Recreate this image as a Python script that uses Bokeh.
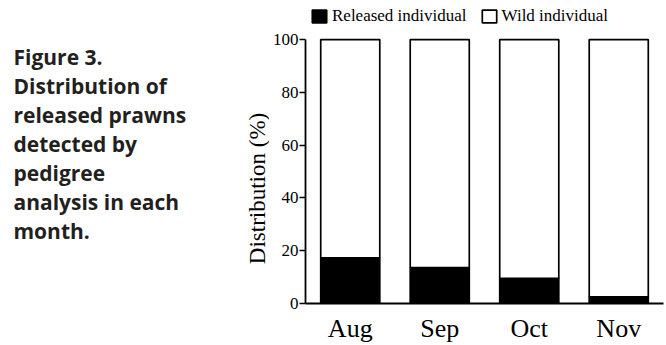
import math
from bokeh.plotting import figure
from bokeh.layouts import row
from bokeh.models import Range1d, FactorRange, Label, Legend, LegendItem
from bokeh.embed import file_html
from bokeh.resources import INLINE

# Monthly share of released vs wild prawns (%)
months = ["Aug", "Sep", "Oct", "Nov"]
released = [17.3, 13.6, 9.5, 2.5]
wild = [100 - r for r in released]
y_ticks = [0, 20, 40, 60, 80, 100]
y_title = "Distribution (%)"

caption_lines = [
    "Figure 3.",
    "Distribution of",
    "released prawns",
    "detected by",
    "pedigree",
    "analysis in each",
    "month.",
]

SERIF = "Liberation Serif"
INK = "#000000"
W, H = 666, 345
CAP_W = 269               # caption panel (also carries the y title)
FRAME_LEFT = 305
PLOT_BOTTOM = 35          # space below the zero line for month labels
PX_PER_PCT = 2.7          # vertical scale of the bars
FRAME_H = H - PLOT_BOTTOM
Y_TOP = FRAME_H / PX_PER_PCT   # headroom above 100 % holds the legend

# ---- caption panel on the left (frame is aligned with the chart's frame) ----
cap = figure(
    width=CAP_W, height=H, x_range=Range1d(0, 1), y_range=Range1d(0, 1),
    output_backend="svg", toolbar_location=None,
    min_border=0, min_border_bottom=PLOT_BOTTOM,
    x_axis_type=None, y_axis_type=None,
)
cap.outline_line_color = None
cap.grid.grid_line_color = None
for i, line in enumerate(caption_lines):
    cap.add_layout(Label(
        x=13, y=FRAME_H - 63 - 29 * i, x_units="screen", y_units="screen",
        text=line, text_font="Open Sans", text_font_style="bold",
        text_font_size="21px", text_color="#231f20",
        text_baseline="alphabetic",
    ))

# y title, centred a little below the middle of the 0-100 scale
cap.add_layout(Label(
    x=257, y=FRAME_H - 195, x_units="screen", y_units="screen",
    text=y_title, angle=math.pi / 2, text_align="center",
    text_baseline="middle", text_font=SERIF, text_font_size="23px",
    text_color=INK,
))

# ---- stacked bar chart ----
p = figure(
    width=W - CAP_W, height=H,
    x_range=FactorRange(*months, range_padding=0),
    y_range=Range1d(0, Y_TOP),
    output_backend="svg", toolbar_location=None,
    min_border_left=FRAME_LEFT - CAP_W, min_border_right=3,
    min_border_top=0, min_border_bottom=PLOT_BOTTOM,
)
p.outline_line_color = None
p.grid.grid_line_color = None

data = dict(month=months, released=released, wild=wild)
renderers = p.vbar_stack(
    ["released", "wild"], x="month", width=0.66, source=data,
    fill_color=[INK, "white"], line_color=INK, line_width=1.7,
)

# y axis, limited to 0-100 %
p.yaxis.ticker = y_ticks
p.yaxis.bounds = (0, 100)
p.yaxis.major_label_text_font = SERIF
p.yaxis.major_label_text_font_size = "17px"
p.yaxis.major_label_text_color = INK
p.yaxis.major_label_standoff = 1
p.yaxis.major_tick_out = 6
p.yaxis.major_tick_in = 0
p.yaxis.minor_tick_line_color = None
p.yaxis.axis_line_width = 1.8
p.yaxis.major_tick_line_width = 1.6
p.yaxis.axis_line_color = INK
p.yaxis.major_tick_line_color = INK

# x axis
p.xaxis.major_label_text_font = SERIF
p.xaxis.major_label_text_font_size = "26px"
p.xaxis.major_label_text_color = INK
p.xaxis.major_label_standoff = 4
p.xaxis.major_tick_line_color = None
p.xaxis.minor_tick_line_color = None
p.xaxis.axis_line_width = 1.8
p.xaxis.axis_line_color = INK

# legend in the headroom above the bars
legend = Legend(
    items=[
        LegendItem(label="Released individual", renderers=[renderers[0]]),
        LegendItem(label="Wild individual", renderers=[renderers[1]]),
    ],
    orientation="horizontal",
    location=(5, 277),
    glyph_width=18, glyph_height=16,
    label_text_font=SERIF, label_text_font_size="17px",
    label_text_color=INK, label_standoff=4,
    spacing=13, padding=0, margin=0,
    border_line_color=None, background_fill_alpha=0,
)
p.add_layout(legend)

open("out.html", "w").write(file_html(row(cap, p, spacing=0), INLINE))
